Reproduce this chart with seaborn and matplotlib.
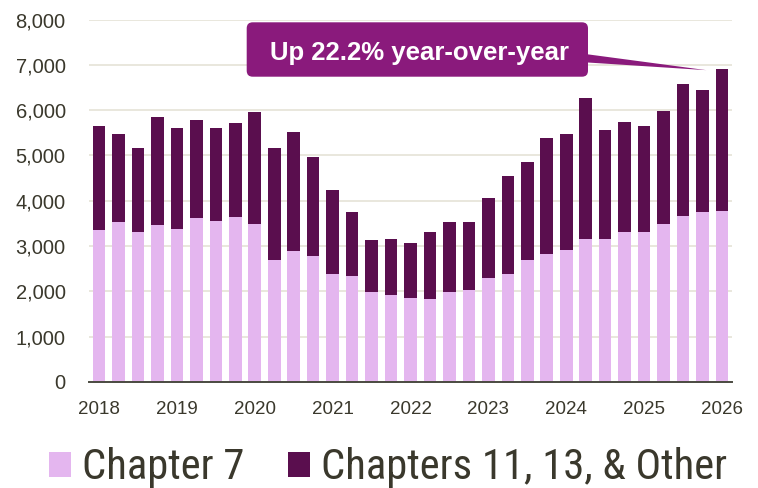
import os
import numpy as np
import pandas as pd
import matplotlib
matplotlib.use("Agg")
import matplotlib.pyplot as plt
from matplotlib import font_manager as fm
from matplotlib.patches import FancyBboxPatch, Polygon, Patch
import seaborn as sns

# Quarterly bankruptcy filings, 2018 Q1 - 2026 Q1
quarters = [f"{y}Q{q}" for y in range(2018, 2026) for q in range(1, 5)] + ["2026Q1"]
chapter7 = [3360, 3520, 3320, 3460, 3380, 3620, 3560, 3630, 3490,
            2700, 2900, 2790, 2390, 2345, 1975, 1925, 1860,
            1835, 1975, 2035, 2290, 2380, 2700, 2825, 2920,
            3150, 3165, 3320, 3300, 3480, 3665, 3750, 3775]
totals = [5650, 5465, 5155, 5855, 5610, 5795, 5600, 5710, 5950,
          5155, 5520, 4960, 4230, 3745, 3140, 3155, 3060,
          3320, 3525, 3520, 4060, 4550, 4860, 5390, 5470,
          6275, 5560, 5735, 5650, 5985, 6575, 6440, 6905]
other = [t - c for t, c in zip(totals, chapter7)]
year_labels = ["2018", "2019", "2020", "2021", "2022", "2023", "2024", "2025", "2026"]
y_ticks = [0, 1000, 2000, 3000, 4000, 5000, 6000, 7000, 8000]
callout = "Up 22.2% year-over-year"
legend_labels = ["Chapter 7", "Chapters 11, 13, & Other"]

LIGHT = "#E4B6EF"
DARK = "#5A0E4E"
CALLOUT = "#8A1A7C"
TEXT = "#3a382c"
GRID = "#e7e5da"

sns.set_theme(style="white")
plt.rcParams["font.family"] = ["Liberation Sans", "DejaVu Sans"]


def narrow_font():
    """Pick an installed condensed sans-serif for the legend, if any."""
    found = []
    for f in fm.fontManager.ttflist:
        fn = os.path.basename(f.fname).lower()
        nm = f.name.lower()
        is_narrow = ("narrow" in fn or "condensed" in fn or "narrow" in nm
                     or "condensed" in nm
                     or str(f.stretch) in ("condensed", "semi-condensed", "extra-condensed"))
        is_plain = ("bold" not in fn and "italic" not in fn and "oblique" not in fn
                    and "light" not in fn and "thin" not in fn and "black" not in fn
                    and "medium" not in fn and "semibold" not in fn)
        if is_narrow and is_plain:
            found.append(f)
    order = ["liberation sans narrow", "roboto condensed", "open sans condensed",
             "noto sans", "dejavu sans"]
    found.sort(key=lambda f: next((i for i, o in enumerate(order) if o in f.name.lower()), 99))
    if found:
        return fm.FontProperties(fname=found[0].fname)
    return fm.FontProperties(family=["Liberation Sans", "DejaVu Sans"])


df = pd.DataFrame({"quarter": quarters, "chapter7": chapter7, "other": other})
df["total"] = df["chapter7"] + df["other"]

fig = plt.figure(figsize=(7.58, 4.88), dpi=100)
ax = fig.add_axes([89.3 / 758, 1 - 381.8 / 488, (731.7 - 89.3) / 758, (381.8 - 19.7) / 488])

# Stacked bars: full height in dark, Chapter 7 share overlaid in light
sns.barplot(data=df, x="quarter", y="total", order=quarters, color=DARK,
            saturation=1, width=0.65, linewidth=0, ax=ax, zorder=3)
sns.barplot(data=df, x="quarter", y="chapter7", order=quarters, color=LIGHT,
            saturation=1, width=0.65, linewidth=0, ax=ax, zorder=3)

n = len(quarters)
ax.set_xlim(-0.5, n - 0.5)
ax.set_ylim(0, 8000)
ax.set_xlabel("")
ax.set_ylabel("")

ax.set_yticks(y_ticks)
ax.set_yticklabels([f"{v:,}" for v in y_ticks])
ax.tick_params(axis="y", length=0, pad=17, labelsize=14.5, labelcolor=TEXT)
for v in y_ticks[1:]:
    ax.axhline(v, color=GRID, lw=1.3, zorder=1)

ax.set_xticks(np.arange(-0.5, n, 1.0))
ax.set_xticklabels([])
ax.set_xticks(np.arange(0, n, 4), minor=True)
ax.set_xticklabels(year_labels, minor=True)
ax.tick_params(axis="x", which="major", length=6, width=1.3, color="#4a4a40", direction="out")
ax.tick_params(axis="x", which="minor", length=0, pad=14, labelsize=13.5, labelcolor=TEXT)

for s in ["top", "right", "left"]:
    ax.spines[s].set_visible(False)
ax.spines["bottom"].set_color("#4a4a40")
ax.spines["bottom"].set_linewidth(1.4)
ax.spines["bottom"].set_zorder(4)

# Callout box with a wedge pointing at the latest quarter
inch = fig.dpi_scale_trans
box = FancyBboxPatch((2.467, 4.113), 5.88 - 2.467, 4.657 - 4.113,
                     boxstyle="round,pad=0,rounding_size=0.06",
                     transform=inch, fc=CALLOUT, ec="none", zorder=5)
fig.patches.append(box)
tip_disp = ax.transData.transform((n - 1 - 0.8, totals[-1] - 20))
tip_in = inch.inverted().transform(tip_disp)
wedge = Polygon([(5.80, 4.347), (tip_in[0], tip_in[1]), (5.80, 4.26)],
                closed=True, transform=inch, fc=CALLOUT, ec="none", zorder=5)
fig.patches.append(wedge)
fig.text(4.20, 4.28, callout, transform=inch, ha="center", va="baseline",
         color="white", fontsize=18.5, fontweight="bold", zorder=6)

# Legend font size chosen so the longer label spans about 405 px
lp = narrow_font()
renderer = fig.canvas.get_renderer()
probe = fig.text(0, 0, legend_labels[1], fontproperties=lp, fontsize=20)
w20 = probe.get_window_extent(renderer).width
probe.remove()
leg_size = min(34.0, 20 * 405.0 / w20)
lp.set_size(leg_size)

handles = [Patch(facecolor=LIGHT, edgecolor="none", label=legend_labels[0]),
           Patch(facecolor=DARK, edgecolor="none", label=legend_labels[1])]
px = leg_size * 100 / 72.0
fig.legend(handles=handles, loc="center left", bbox_to_anchor=(49 / 758, 1 - 468 / 488),
           ncol=2, frameon=False, borderpad=0, borderaxespad=0,
           handlelength=22 / px, handleheight=22 / px, handletextpad=11 / px,
           columnspacing=44 / px, prop=lp, labelcolor=TEXT)

fig.savefig("out.png", dpi=100)
